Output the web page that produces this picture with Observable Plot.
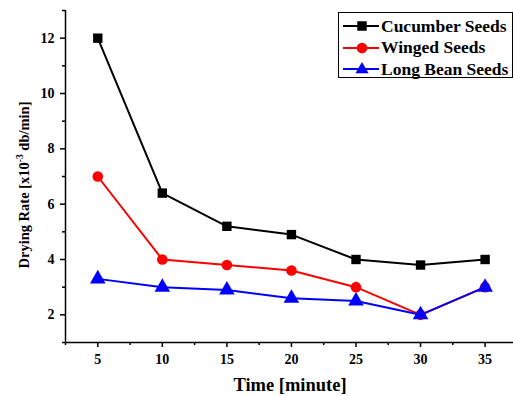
<!DOCTYPE html>
<html>
<head>
<meta charset="utf-8">
<script src="https://cdn.jsdelivr.net/npm/d3@7"></script>
<script src="https://cdn.jsdelivr.net/npm/@observablehq/plot@0.6"></script>
<style>
  html, body { margin: 0; padding: 0; background: #fff; overflow: hidden; }
  #wrap { position: relative; width: 513px; height: 396px; font-family: "Liberation Serif", "DejaVu Serif", serif; }
  #legend { position: absolute; left: 338px; top: 12px; width: 173px; height: 64px; border: 1px solid #000; background: #fff; box-sizing: content-box; }
  .row { position: absolute; left: 0; height: 20px; display: flex; align-items: center; font-weight: bold; font-size: 17.5px; white-space: nowrap; }
  .row svg { margin-left: 4px; margin-right: 2px; }
</style>
</head>
<body>
<div id="wrap"><div id="legend"></div></div>
<script>
const times = [5, 10, 15, 20, 25, 30, 35];
const cucumber = [12, 6.4, 5.2, 4.9, 4.0, 3.8, 4.0];
const winged = [7.0, 4.0, 3.8, 3.6, 3.0, 2.0, 3.0];
const longBean = [3.3, 3.0, 2.9, 2.6, 2.5, 2.0, 3.0];
const seriesNames = ["Cucumber Seeds", "Winged Seeds", "Long Bean Seeds"];
const seriesColors = ["#000000", "#ff0000", "#0000ff"];
const seriesSymbols = ["square", "circle", "triangle"];
const xMajor = [5, 10, 15, 20, 25, 30, 35];
const xMinor = [2.5, 7.5, 12.5, 17.5, 22.5, 27.5, 32.5];
const yMajor = [2, 4, 6, 8, 10, 12];
const yMinor = [1, 3, 5, 7, 9, 11, 13];

const allSeries = [cucumber, winged, longBean];
const data = allSeries.flatMap((vals, i) => vals.map((v, j) => ({t: times[j], v, s: seriesNames[i]})));

const font = "Liberation Serif";
const marks = [];
allSeries.forEach((vals, i) => {
  const d = data.filter(r => r.s === seriesNames[i]);
  marks.push(Plot.line(d, {x: "t", y: "v", stroke: seriesColors[i], strokeWidth: 2}));
  marks.push(Plot.dot(d, {x: "t", y: "v", symbol: () => seriesSymbols[i], fill: seriesColors[i], stroke: "none", r: seriesSymbols[i] === "triangle" ? 5.8 : 5.3}));
});
marks.push(
  Plot.axisX(xMajor, {tickSize: 5, tickPadding: 7, strokeWidth: 1.5, label: null, fontSize: 14, fontWeight: "bold"}),
  Plot.axisX(xMinor, {tickSize: 3, strokeWidth: 1.5, text: null, label: null}),
  Plot.axisY(yMajor, {tickSize: 5, tickPadding: 6, strokeWidth: 1.5, label: null, fontSize: 14, fontWeight: "bold"}),
  Plot.axisY(yMinor, {tickSize: 3, strokeWidth: 1.5, text: null, label: null}),
  Plot.ruleX([2.5], {strokeWidth: 1.5}),
  Plot.ruleY([1], {strokeWidth: 1.5})
);

const chart = Plot.plot({
  width: 513,
  height: 396,
  marginLeft: 65,
  marginRight: 0,
  marginTop: 10,
  marginBottom: 54,
  style: {fontFamily: font, color: "#000", background: "#fff", overflow: "visible"},
  x: {domain: [2.5, 37.2]},
  y: {domain: [1, 13]},
  marks
});
document.getElementById("wrap").prepend(chart);

const svg = d3.select(chart);
svg.append("text")
  .attr("x", 290).attr("y", 391)
  .attr("text-anchor", "middle")
  .attr("font-size", 18.5).attr("font-weight", "bold").attr("fill", "#000")
  .attr("font-family", font)
  .text("Time [minute]");
const yl = svg.append("text")
  .attr("transform", "translate(29,185) rotate(-90)")
  .attr("text-anchor", "middle")
  .attr("font-size", 14.5).attr("font-weight", "bold").attr("fill", "#000")
  .attr("font-family", font);
yl.append("tspan").text("Drying Rate [x10");
yl.append("tspan").attr("dy", -6).attr("font-size", 9.5).text("-3");
yl.append("tspan").attr("dy", 6).text(" db/min]");

const legend = document.getElementById("legend");
seriesNames.forEach((name, i) => {
  const row = document.createElement("div");
  row.className = "row";
  row.style.top = (3 + i * 21.5) + "px";
  const sym = d3.symbol(seriesSymbols[i] === "square" ? d3.symbolSquare : seriesSymbols[i] === "circle" ? d3.symbolCircle : d3.symbolTriangle, seriesSymbols[i] === "triangle" ? 75 : 90)();
  row.innerHTML = `<svg width="36" height="20"><line x1="0" x2="36" y1="10" y2="10" stroke="${seriesColors[i]}" stroke-width="2"/><path d="${sym}" transform="translate(19,${seriesSymbols[i] === "triangle" ? 10.5 : 10})" fill="${seriesColors[i]}"/></svg><span>${name}</span>`;
  legend.appendChild(row);
});
</script>
</body>
</html>
